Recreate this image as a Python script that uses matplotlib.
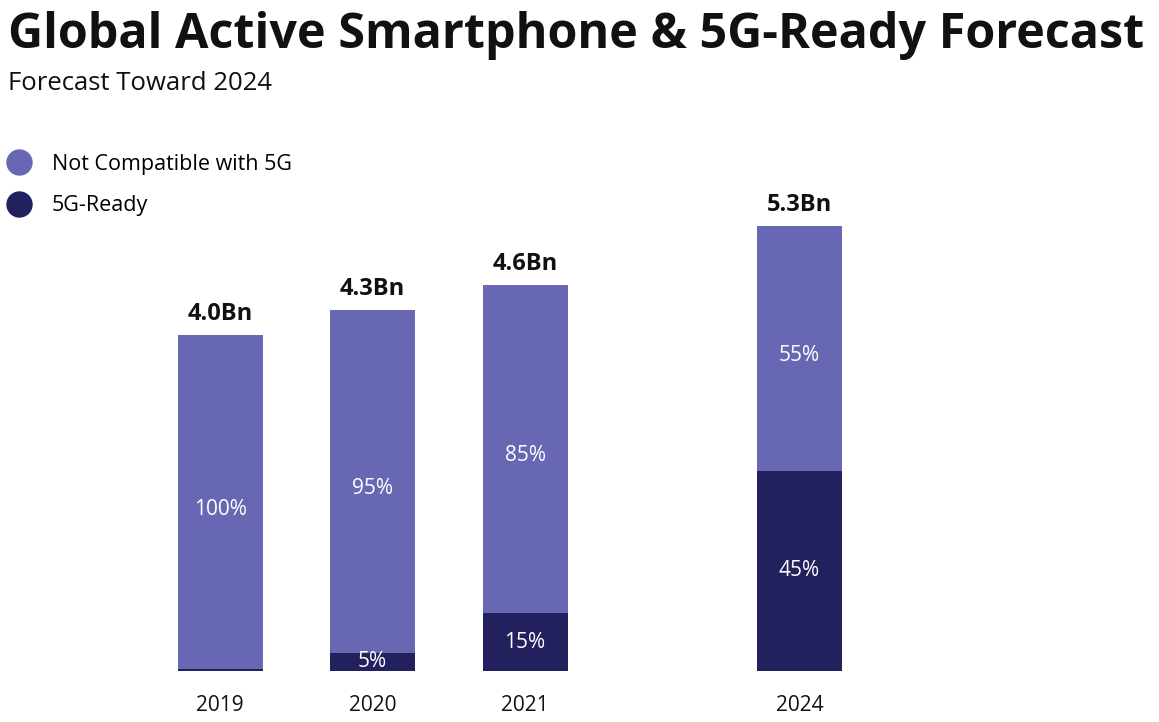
import matplotlib
matplotlib.use("Agg")
import matplotlib.pyplot as plt
from matplotlib.lines import Line2D

years = ["2019", "2020", "2021", "2024"]
totals_bn = [4.0, 4.3, 4.6, 5.3]
ready_pct = [0.5, 5, 15, 45]
not_compat_pct = [100, 95, 85, 55]
ready_labels = ["", "5%", "15%", "45%"]
not_compat_labels = ["100%", "95%", "85%", "55%"]
positions = [0, 1, 2, 3.8]

LIGHT = "#6767B3"
DARK = "#23205E"
FONT = "Open Sans"

plt.rcParams["font.family"] = [FONT, "DejaVu Sans"]

W, H = 1159, 722
fig = plt.figure(figsize=(W / 100, H / 100), dpi=100)
ax = fig.add_axes([0, 51 / H, 1, 504 / H])
ax.set_xlim(-220 / 152.5, (W - 220) / 152.5)
ax.set_ylim(0, 6)
ax.axis("off")

bw = 85 / 152.5
ready_h = [t * r / 100 for t, r in zip(totals_bn, ready_pct)]
nc_h = [t - r for t, r in zip(totals_bn, ready_h)]
ax.bar(positions, ready_h, width=bw, color=DARK, linewidth=0)
ax.bar(positions, nc_h, width=bw, bottom=ready_h, color=LIGHT, linewidth=0)

for x, t, rh, nh, rl, nl, yr in zip(positions, totals_bn, ready_h, nc_h,
                                     ready_labels, not_compat_labels, years):
    ax.annotate(nl, (x, rh + nh / 2), xytext=(0, -5), textcoords="offset points",
                ha="center", va="center", color="white", fontsize=15)
    if rl:
        ax.text(x, rh / 2, rl, ha="center", va="center", color="white", fontsize=15)
    ax.annotate(f"{t:.1f}Bn", (x, t), xytext=(0, 15), textcoords="offset points",
                ha="center", va="center", fontsize=17, fontweight="bold", color="#111111")
    ax.annotate(yr, (x, 0), xytext=(0, -25), textcoords="offset points",
                ha="center", va="center", fontsize=15, color="#111111")

title = fig.text(8 / W, 1 - 36 / H, "Global Active Smartphone & 5G-Ready Forecast",
                 ha="left", va="center", fontsize=36, fontweight="bold", color="#111111")
# fit title width to the reference span
fig.canvas.draw()
tw = title.get_window_extent().width
title.set_fontsize(36 * 1137 / tw)

fig.text(8 / W, 1 - 83 / H, "Forecast Toward 2024",
         ha="left", va="center", fontsize=18.5, color="#111111")

handles = [
    Line2D([], [], marker="o", linestyle="none", markersize=18, color=LIGHT,
           label="Not Compatible with 5G"),
    Line2D([], [], marker="o", linestyle="none", markersize=18, color=DARK,
           label="5G-Ready"),
]
fig.legend(handles=handles, loc="upper left", bbox_to_anchor=(-1 / W, 1 - 145 / H),
           frameon=False, fontsize=15.5, labelspacing=0.95, handletextpad=0.95,
           handlelength=1.1, borderaxespad=0)

fig.savefig("out.png", dpi=100)
